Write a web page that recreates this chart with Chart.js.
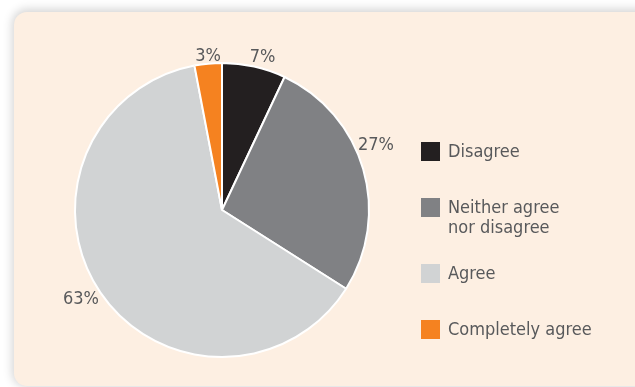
<!DOCTYPE html>
<html>
<head>
<meta charset="utf-8">
<script src="https://cdn.jsdelivr.net/npm/chart.js@4.4.1/dist/chart.umd.min.js"></script>
<style>
  html, body { margin: 0; padding: 0; background: #ffffff; }
  body { width: 635px; height: 387px; position: relative; overflow: hidden; }
  .panel {
    position: absolute; left: 14px; top: 12px; width: 640px; height: 374px;
    background: #fdefe2; border-radius: 13px;
    box-shadow: 0 -1px 10px 2px rgba(0,0,0,0.17);
  }
  canvas { position: absolute; left: 0; top: 0; }
</style>
</head>
<body>
<div class="panel"></div>
<canvas id="c" width="635" height="387"></canvas>
<script>
// Survey answers and their shares (%)
const categories = ['Disagree', 'Neither agree\nnor disagree', 'Agree', 'Completely agree'];
const shares = [7, 27, 63, 3];
const sliceColors = ['#231f20', '#808184', '#d1d3d4', '#f58220'];

// Percentage label placement around the rim: angle nudge (deg) and gap beyond the rim (px)
const labelNudgeDeg = [2.3, -6.6, 1.8, 0.2];
const labelGap = [11, 20, 20, 7];

const FONT = '"DejaVu Sans Condensed", "Liberation Sans Narrow", "DejaVu Sans", sans-serif';
const TEXT_COLOR = '#58595b';

const percentLabels = {
  id: 'percentLabels',
  afterDatasetsDraw(chart) {
    const ctx = chart.ctx;
    const meta = chart.getDatasetMeta(0);
    ctx.save();
    ctx.font = '18px ' + FONT;
    ctx.fillStyle = TEXT_COLOR;
    ctx.textAlign = 'center';
    ctx.textBaseline = 'middle';
    meta.data.forEach((arc, i) => {
      const p = arc.getProps(['x', 'y', 'startAngle', 'endAngle', 'outerRadius'], true);
      const a = (p.startAngle + p.endAngle) / 2 + labelNudgeDeg[i] * Math.PI / 180;
      const r = p.outerRadius + labelGap[i];
      ctx.fillText(shares[i] + '%', p.x + Math.cos(a) * r, p.y + Math.sin(a) * r);
    });
    ctx.restore();
  }
};

const sideLegend = {
  id: 'sideLegend',
  afterDraw(chart) {
    const ctx = chart.ctx;
    const box = 19, lineH = 20;
    const x = chart.chartArea.right + 51;
    let top = 142;
    ctx.save();
    ctx.font = '18px ' + FONT;
    ctx.textAlign = 'left';
    ctx.textBaseline = 'middle';
    chart.data.labels.forEach((label, i) => {
      const lines = label.split('\n');
      ctx.fillStyle = sliceColors[i];
      ctx.fillRect(x, top, box, box);
      ctx.fillStyle = TEXT_COLOR;
      lines.forEach((ln, k) => ctx.fillText(ln, x + 27, top + box / 2 + 1 + k * lineH));
      top += 56 + 10 * (lines.length - 1);
    });
    ctx.restore();
  }
};

new Chart(document.getElementById('c'), {
  type: 'pie',
  data: {
    labels: categories,
    datasets: [{
      data: shares,
      backgroundColor: sliceColors,
      borderColor: '#ffffff',
      borderWidth: 2
    }]
  },
  options: {
    responsive: false,
    animation: false,
    layout: { padding: { left: 74, right: 265, top: 62, bottom: 29 } },
    plugins: {
      legend: { display: false },
      tooltip: { enabled: false }
    }
  },
  plugins: [percentLabels, sideLegend]
});
</script>
</body>
</html>
